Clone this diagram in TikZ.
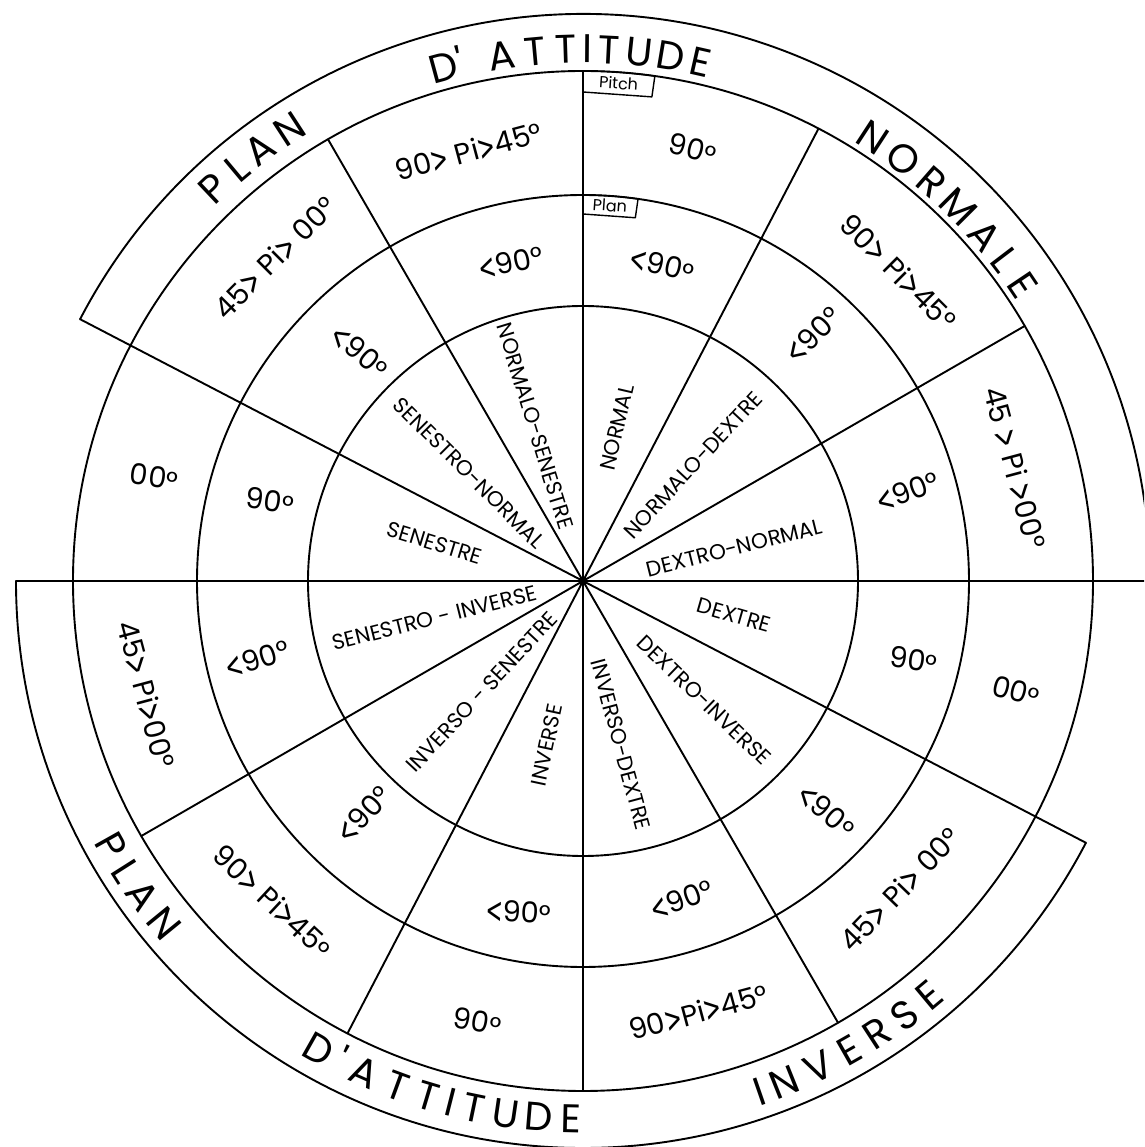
\documentclass[tikz,border=0pt]{standalone}
\usepackage{graphicx}
\usepackage{fontspec}
\setmainfont{Poppins}
\newfontfamily\bandf{Poppins}[Ligatures=TeXOff]
\newfontfamily\symf{DejaVu Sans}
\newcommand\md{\raisebox{-0.09em}{°}}
\newcommand\gt{\raisebox{-0.07em}{\scalebox{0.7}[1.25]{\symf >}}}
\newcommand\lt{\raisebox{-0.07em}{\scalebox{0.7}[1.25]{\symf <}}}
\begin{document}
\begin{tikzpicture}[x=1pt,y=1pt,
  ln/.style={line width=1.9pt,line cap=round,line join=round},
  bandtxt/.style={font=\bandf\fontsize{40}{40}\selectfont,inner sep=0pt,anchor=base},
  ringtxt/.style={font=\fontsize{29}{29}\selectfont,inner sep=0pt},
  hubtxt/.style={font=\fontsize{21.5}{21.5}\selectfont,inner sep=0pt},
  tabtxt/.style={font=\fontsize{16}{16}\selectfont,inner sep=0pt},
]
\useasboundingbox (-583,-566) rectangle (561,581);
\clip (-583,-566) rectangle (561,581);
\fill[white] (-583,-566) rectangle (561,581);
\coordinate (O) at (0,0);
% rings
\foreach \r in {275,386,510} \draw[ln] (O) circle[radius=\r];
% radial lines
\foreach \a in {30,62.5,90,120,210,242.5,270,300} \draw[ln] (O) -- (\a:510);
\foreach \a in {0,152.5,180,332.5} \draw[ln] (O) -- (\a:567);
% outer bands
\draw[ln] (152.5:567) arc[start angle=152.5,end angle=0,radius=567];
\draw[ln] (180:567) arc[start angle=180,end angle=332.5,radius=567];
% hub
\fill (O) circle[radius=4.5];
% tabs
\draw[ln,line width=1.4pt] (90:510) arc[start angle=90,end angle=81.9,radius=510] -- (81.9:489) -- (90:489);
\node[tabtxt,rotate=-4] (pitch) at (85.9:499) {Pitch};
\draw[ln,line width=1.4pt] (90:386) arc[start angle=90,end angle=81.8,radius=386] -- (81.8:367) -- (90:367);
\node[tabtxt,rotate=-4] (plan) at (85.9:376.5) {Plan};
% upper band lettering
\foreach \c/\t [count=\i] in {P/133.3,L/129.95,A/126.82,N/123.0}
  \node[bandtxt,rotate=\t-90] (ua\i) at (\t:525) {\c};
\foreach \c/\t [count=\i] in {D/105.2,'/103.3,A/98.8,T/95.17,T/91.86,I/89.53,T/87.19,U/83.88,D/80.47,E/77.22}
  \node[bandtxt,rotate=\t-90] (ub\i) at (\t:518) {\c};
\foreach \c/\t [count=\i] in {N/56.9,O/52.8,R/48.87,M/44.93,A/40.62,L/37.3,E/33.89}
  \node[bandtxt,rotate=\t-90] (uc\i) at (\t:516) {\c};
% lower band lettering
\foreach \c/\t [count=\i] in {P/209.3,L/212.4,A/215.57,N/219.29}
  \node[bandtxt,rotate=\t+90] (la\i) at (\t:555) {\c};
\foreach \c/\t [count=\i] in {D/240.6,'/243.21,A/246.03,T/249.81,T/253.26,I/255.77,T/258.27,U/261.73,D/265.29,E/268.7}
  \node[bandtxt,rotate=\t+90] (lb\i) at (\t:552) {\c};
\foreach \c/\t [count=\i] in {I/289.1,N/291.89,V/295.89,E/299.63,R/303.05,S/306.53,E/309.9}
  \node[bandtxt,rotate=\t+90] (lc\i) at (\t:554) {\c};
% pitch ring
\node[ringtxt,rotate=15]  (p1)  at (104.9:444) {90\gt{} Pi\gt{}45°};
\node[ringtxt,rotate=-14] (p2)  at (75.8:445)  {90\md};
\node[ringtxt,rotate=-45] (p3)  at (44.4:441)  {90\gt{} Pi\gt{}45°};
\node[ringtxt,rotate=-75] (p4)  at (14.7:446)  {45 \gt{} Pi \gt{}00°};
\node[ringtxt,rotate=-14] (p5)  at (-14.4:447) {00\md};
\node[ringtxt,rotate=46]  (p6)  at (-44.2:443) {45\gt{} Pi\gt{} 00°};
\node[ringtxt,rotate=15]  (p7)  at (-75:447)   {90\gt{}Pi\gt{}45°};
\node[ringtxt,rotate=-10] (p8)  at (256.5:454) {90\md};
\node[ringtxt,rotate=-43] (p9)  at (225.9:447) {90\gt{} Pi\gt{}45\md};
\node[ringtxt,rotate=-75] (p10) at (194.6:452) {45\gt{} Pi\gt{}00°};
\node[ringtxt,rotate=-8]  (p11) at (166.5:441) {00\md};
\node[ringtxt,rotate=45]  (p12) at (133.6:446) {45\gt{} Pi\gt{} 00°};
% plan ring
\node[ringtxt,rotate=12]  (q1)  at (102.8:326) {\lt{}90°};
\node[ringtxt,rotate=-13] (q2)  at (75.9:325)  {\lt{}90\md};
\node[ringtxt,rotate=45]  (q3)  at (46.8:337)  {\lt{}90°};
\node[ringtxt,rotate=20]  (q4)  at (15.3:337)  {\lt{}90°};
\node[ringtxt,rotate=-8]  (q5)  at (-13.6:340) {90\md};
\node[ringtxt,rotate=-40] (q6)  at (-43.5:335) {\lt{}90\md};
\node[ringtxt,rotate=20]  (q7)  at (-72.8:334) {\lt{}90°};
\node[ringtxt,rotate=-3]  (q8)  at (259:338)   {\lt{}90\md};
\node[ringtxt,rotate=47]  (q9)  at (226.9:320) {\lt{}90°};
\node[ringtxt,rotate=17]  (q10) at (193.6:335) {\lt{}90°};
\node[ringtxt,rotate=-8]  (q11) at (165.8:323) {90\md};
\node[ringtxt,rotate=-40] (q12) at (134.4:320) {\lt{}90\md};
% hub names
\node[hubtxt,rotate=-73] (h1)  at (107.2:162) {NORMALO-SENESTRE};
\node[hubtxt,rotate=77]  (h2)  at (77.5:157)  {NORMAL};
\node[hubtxt,rotate=47]  (h3)  at (46.5:160)  {NORMALO-DEXTRE};
\node[hubtxt,rotate=14]  (h4)  at (12.3:155)  {DEXTRO-NORMAL};
\node[hubtxt,rotate=-16] (h5)  at (-12.7:155) {DEXTRE};
\node[hubtxt,rotate=-44] (h6)  at (-44.5:170) {DEXTRO-INVERSE};
\node[hubtxt,rotate=-75] (h7)  at (-77:168)   {INVERSO-DEXTRE};
\node[hubtxt,rotate=78]  (h8)  at (257.6:168) {INVERSE};
\node[hubtxt,rotate=47]  (h9)  at (227.7:150) {INVERSO - SENESTRE};
\node[hubtxt,rotate=14]  (h10) at (194:153)   {SENESTRO - INVERSE};
\node[hubtxt,rotate=-17] (h11) at (165.6:153) {SENESTRE};
\node[hubtxt,rotate=-45] (h12) at (136.5:157) {SENESTRO-NORMAL};
\end{tikzpicture}
\end{document}
